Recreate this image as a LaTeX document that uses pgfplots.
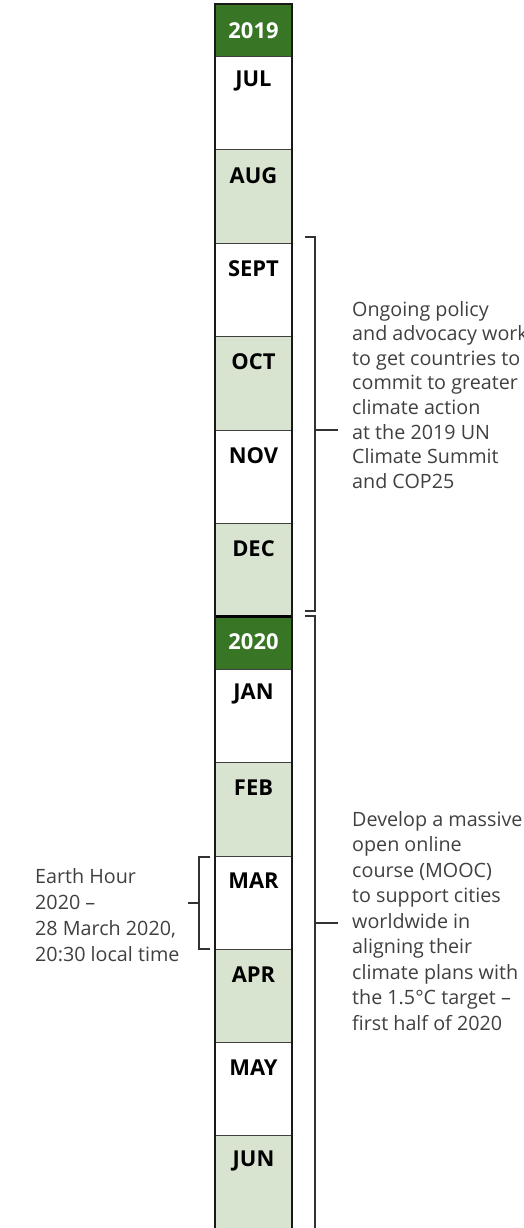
\documentclass[border=0pt]{standalone}
\usepackage{pgfplots}
\pgfplotsset{compat=1.18}
\usepackage{fontspec}
\setmainfont{Open Sans}
\definecolor{dgreen}{RGB}{56,118,38}
\definecolor{lgreen}{RGB}{216,228,208}
\definecolor{txt}{RGB}{64,64,64}
\definecolor{brk}{RGB}{50,50,50}
\newcommand{\cell}[3]{\addplot[fill=#3, draw=none] coordinates {(215,#1) (292,#1) (292,#2) (215,#2)} -- cycle;}
\newcommand{\sep}[2]{\addplot[#2] coordinates {(215,#1) (292,#1)};}
\newcommand{\mlab}[2]{\node[font=\bfseries\fontsize{22}{26}\selectfont, text=black, anchor=center] at (axis cs:253.5,#1) {#2};}
\newcommand{\tl}[3]{\node[font=\fontsize{19.8}{24}\selectfont, text=txt, anchor=base west, inner sep=0pt] at (axis cs:#1,#2) {#3};}
\begin{document}
\begin{tikzpicture}
\path[use as bounding box, clip] (0,0) rectangle (524bp,1228bp);
\begin{axis}[
  at={(0,0)}, anchor=south west,
  scale only axis, width=524bp, height=1228bp,
  xmin=0, xmax=524, ymin=0, ymax=1228, y dir=reverse,
  hide axis, clip=false,
]
% cells: top, bottom, fill
\cell{4}{57}{dgreen}
\cell{57}{150}{white}
\cell{150}{243}{lgreen}
\cell{243}{336.5}{white}
\cell{336.5}{430}{lgreen}
\cell{430}{523}{white}
\cell{523}{616.5}{lgreen}
\cell{616.5}{669}{dgreen}
\cell{669}{762.5}{white}
\cell{762.5}{856}{lgreen}
\cell{856}{949}{white}
\cell{949}{1042}{lgreen}
\cell{1042}{1135.5}{white}
\cell{1135.5}{1230}{lgreen}
% separators
\sep{57}{black!75, line width=1bp}
\sep{150}{black!75, line width=1bp}
\sep{243}{black!75, line width=1bp}
\sep{336.5}{black!75, line width=1bp}
\sep{430}{black!75, line width=1bp}
\sep{523}{black!75, line width=1bp}
\sep{616.5}{black, line width=2.2bp}
\sep{669}{black!75, line width=1bp}
\sep{762.5}{black!75, line width=1bp}
\sep{856}{black!75, line width=1bp}
\sep{949}{black!75, line width=1bp}
\sep{1042}{black!75, line width=1bp}
\sep{1135.5}{black!75, line width=1bp}
% outer border
\addplot[black!90, line width=2.4bp] coordinates {(215,1230) (215,4) (292,4) (292,1230)};
% labels
\node[font=\bfseries\fontsize{22}{26}\selectfont, text=white] at (axis cs:253.5,31) {2019};
\mlab{81}{JUL}
\mlab{176}{AUG}
\mlab{269}{SEPT}
\mlab{362}{OCT}
\mlab{456}{NOV}
\mlab{549}{DEC}
\node[font=\bfseries\fontsize{22}{26}\selectfont, text=white] at (axis cs:253.5,642) {2020};
\mlab{694}{JAN}
\mlab{788}{FEB}
\mlab{881}{MAR}
\mlab{975}{APR}
\mlab{1068}{MAY}
\mlab{1161}{JUN}
% brackets
\addplot[brk, line width=1.2bp] coordinates {(305,237) (315,237) (315,611) (305,611)};
\addplot[brk, line width=1.2bp] coordinates {(315,430) (338,430)};
\addplot[brk, line width=1.2bp] coordinates {(305,616) (315,616) (315,1230)};
\addplot[brk, line width=1.2bp] coordinates {(315,923) (338,923)};
\addplot[brk, line width=1.2bp] coordinates {(210,857) (199,857) (199,949) (210,949)};
\addplot[brk, line width=1.2bp] coordinates {(188,903) (199,903)};
% annotation text
\tl{352}{316}{Ongoing policy}
\tl{352}{340.6}{and advocacy work}
\tl{352}{365.2}{to get countries to}
\tl{352}{389.8}{commit to greater}
\tl{352}{414.4}{climate action}
\tl{352}{439}{at the 2019 UN}
\tl{352}{463.6}{Climate Summit}
\tl{352}{488.2}{and COP25}
\tl{352}{826}{Develop a massive}
\tl{352}{851.5}{open online}
\tl{352}{877}{course (MOOC)}
\tl{352}{902.5}{to support cities}
\tl{352}{928}{worldwide in}
\tl{352}{953.5}{aligning their}
\tl{352}{979}{climate plans with}
\tl{352}{1004.5}{the 1.5°C target –}
\tl{352}{1030}{first half of 2020}
\tl{35}{883}{Earth Hour}
\tl{35}{909}{2020 –}
\tl{35}{935}{28 March 2020,}
\tl{35}{961}{20:30 local time}
\end{axis}
\end{tikzpicture}
\end{document}
